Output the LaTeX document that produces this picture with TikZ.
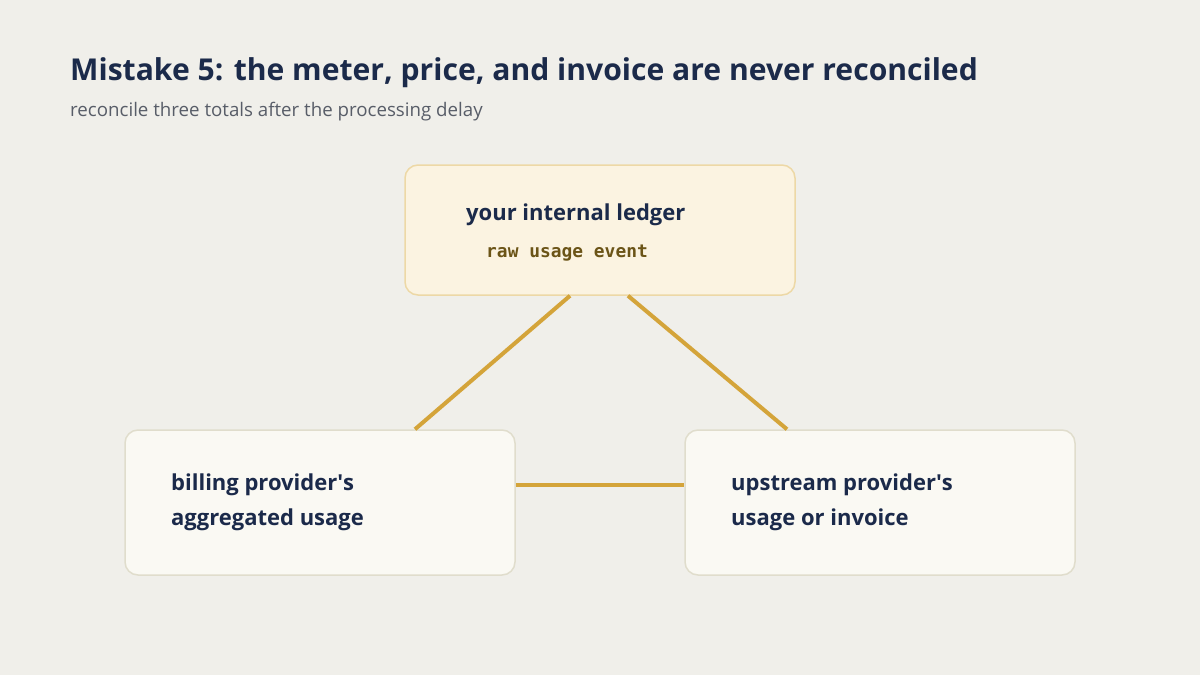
\documentclass[tikz,border=0pt]{standalone}
\usepackage{fontspec}
\setmainfont{Open Sans}
\newfontfamily\monofam{DejaVu Sans Mono}
\definecolor{bgc}{HTML}{F0EFEA}
\definecolor{navy}{HTML}{1B2A4A}
\definecolor{subc}{HTML}{585D68}
\definecolor{goldl}{HTML}{D4A43A}
\definecolor{topfill}{HTML}{FBF3E1}
\definecolor{topdraw}{HTML}{EDD8A6}
\definecolor{boxfill}{HTML}{FAF9F3}
\definecolor{boxdraw}{HTML}{E0DDCC}
\definecolor{monoc}{HTML}{6B5417}
\begin{document}
\begin{tikzpicture}[x=1pt,y=-1pt,
  card/.style={draw=boxdraw,fill=boxfill,line width=1.5pt,rounded corners=13pt,minimum width=390pt,minimum height=145pt,inner sep=0pt},
  topcard/.style={card,draw=topdraw,fill=topfill,minimum height=130pt},
  lbl/.style={anchor=west,text=navy,font=\fontsize{22}{35}\selectfont\bfseries,align=left,inner sep=0pt},
  link/.style={draw=goldl,line width=4pt}]
\fill[bgc] (0,0) rectangle (1200,675);
\node[anchor=base west,inner sep=0pt,text=navy,font=\fontsize{30.1}{38}\selectfont\bfseries] (title) at (70,80) {Mistake 5: the meter, price, and invoice are never reconciled};
\node[anchor=base west,inner sep=0pt,text=subc,font=\fontsize{18.7}{22}\selectfont] (sub) at (70,116) {reconcile three totals after the processing delay};
\node[topcard] (top) at (600,230) {};
\node[card] (left) at (320,502.5) {};
\node[card] (right) at (880,502.5) {};
\draw[link] ([xshift=-30pt]top.south) -- ([xshift=95pt]left.north);
\draw[link] ([xshift=28pt]top.south) -- ([xshift=-93pt]right.north);
\draw[link] ([yshift=17.5pt]left.east) -- ([yshift=17.5pt]right.west);
\node[anchor=base west,inner sep=0pt,text=navy,font=\fontsize{22}{26}\selectfont\bfseries] (tl) at (466,220) {your internal ledger};
\node[anchor=base west,inner sep=0pt,text=monoc,font=\monofam\fontsize{17.9}{20}\selectfont\bfseries] (tm) at (486,257) {raw usage event};
\node[lbl] (ll) at (171,502) {billing provider\textquotesingle s\\aggregated usage};
\node[lbl] (rl) at (731,502) {upstream provider\textquotesingle s\\usage or invoice};
\end{tikzpicture}
\end{document}
